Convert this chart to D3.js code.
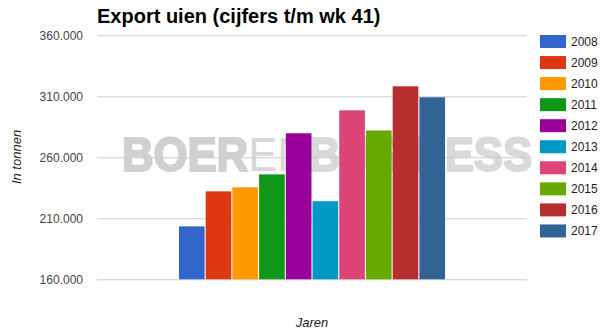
<!DOCTYPE html>
<html>
<head>
<meta charset="utf-8">
<script src="https://cdn.jsdelivr.net/npm/d3@7.9.0/dist/d3.min.js"></script>
<style>
  body { margin: 0; background: #fff; }
  svg { display: block; }
</style>
</head>
<body>
<div id="chart"></div>
<script>
const years = ['2008', '2009', '2010', '2011', '2012', '2013', '2014', '2015', '2016', '2017'];
const exportTons = [203400, 232100, 235400, 246000, 279700, 224000, 298500, 282000, 318200, 309200];
const colors = ['#3366cc', '#dc3912', '#ff9900', '#109618', '#990099', '#0099c6', '#dd4477', '#66aa00', '#b82e2e', '#316395'];
const yTicks = [160000, 210000, 260000, 310000, 360000];

const width = 609;
const height = 334;
const plot = { left: 97, right: 527, top: 35.3, bottom: 279.3 };

const nl = d3.formatLocale({ decimal: ',', thousands: '.', grouping: [3], currency: ['€', ''] });
const fmt = nl.format(',.0f');

const svg = d3.select('#chart').append('svg')
  .attr('width', width)
  .attr('height', height);

// one category group, bars for each year inside it
const x0 = d3.scaleBand().domain(['']).range([plot.left, plot.right]).paddingOuter(0.308);
const x1 = d3.scaleBand().domain(years).range([0, x0.bandwidth()]).paddingInner(0.04);
const yScale = d3.scaleLinear().domain([160000, 360000]).range([plot.bottom, plot.top]);

// watermark behind the chart
const wm = svg.append('text')
  .attr('x', 122).attr('y', 171)
  .attr('textLength', 410)
  .attr('lengthAdjust', 'spacingAndGlyphs')
  .style('font-family', 'Liberation Sans')
  .style('font-size', '48px');
wm.append('tspan').style('font-weight', 'bold').attr('fill', '#d0d0d0')
  .attr('stroke', '#d0d0d0').attr('stroke-width', 2).text('BOER');
wm.append('tspan').style('font-weight', 'normal').attr('fill', '#d8d8d8').text('EN');
wm.append('tspan').style('font-weight', 'bold').attr('fill', '#d9d9d9')
  .attr('stroke', '#d9d9d9').attr('stroke-width', 2).text('BUSINESS');

// gridlines
svg.append('g')
  .attr('class', 'gridlines')
  .attr('transform', `translate(${plot.left}, 0)`)
  .call(d3.axisLeft(yScale).tickValues(yTicks).tickFormat('').tickSize(-(plot.right - plot.left)))
  .call(g => g.select('.domain').remove())
  .call(g => g.selectAll('line').attr('stroke', '#cccccc'));

// y axis labels
svg.append('g')
  .attr('transform', `translate(${plot.left}, 0)`)
  .call(d3.axisLeft(yScale).tickValues(yTicks).tickFormat(fmt).tickSize(0).tickPadding(14))
  .call(g => g.select('.domain').remove())
  .call(g => g.selectAll('text')
    .attr('fill', '#444')
    .style('font-family', 'Liberation Sans')
    .style('font-size', '12px'));

// bars
svg.append('g')
  .selectAll('rect')
  .data(years.map((yr, i) => ({ yr, v: exportTons[i], c: colors[i] })))
  .join('rect')
  .attr('x', d => x0('') + x1(d.yr))
  .attr('y', d => yScale(d.v))
  .attr('width', x1.bandwidth())
  .attr('height', d => yScale(160000) - yScale(d.v))
  .attr('fill', d => d.c);

// title
svg.append('text')
  .attr('x', 97).attr('y', 23)
  .style('font-family', 'Liberation Sans')
  .style('font-weight', 'bold')
  .style('font-size', '20px')
  .attr('fill', '#000')
  .text('Export uien (cijfers t/m wk 41)');

// axis titles
svg.append('text')
  .attr('transform', 'translate(21, 157) rotate(-90)')
  .attr('text-anchor', 'middle')
  .style('font-family', 'Liberation Sans')
  .style('font-style', 'italic')
  .style('font-size', '13px')
  .attr('fill', '#222')
  .text('In tonnen');

svg.append('text')
  .attr('x', 312).attr('y', 327)
  .attr('text-anchor', 'middle')
  .style('font-family', 'Liberation Sans')
  .style('font-style', 'italic')
  .style('font-size', '13px')
  .attr('fill', '#222')
  .text('Jaren');

// legend
const legend = svg.append('g').attr('class', 'legend')
  .selectAll('g')
  .data(years)
  .join('g')
  .attr('transform', (d, i) => `translate(540, ${35 + i * 21.05})`);
legend.append('rect')
  .attr('width', 26).attr('height', 13)
  .attr('fill', (d, i) => colors[i]);
legend.append('text')
  .attr('x', 31).attr('y', 11)
  .style('font-family', 'Liberation Sans')
  .style('font-size', '12px')
  .attr('fill', '#222')
  .text(d => d);
</script>
</body>
</html>
